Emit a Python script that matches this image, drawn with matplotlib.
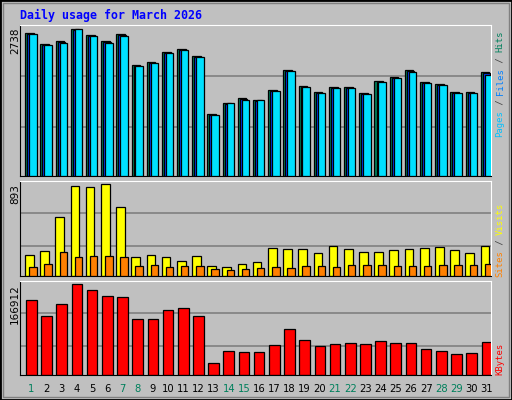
import matplotlib
matplotlib.use("Agg")
import matplotlib.pyplot as plt
from matplotlib.patches import Rectangle

days = list(range(1, 32))
weekend = [1, 7, 8, 14, 15, 21, 22, 28, 29]

hits = [2664, 2459, 2515, 2738, 2627, 2515, 2645, 2068, 2124, 2310, 2366, 2236, 1155, 1360,
        1453, 1416, 1602, 1975, 1677, 1565, 1658, 1658, 1546, 1770, 1844, 1975, 1751, 1714,
        1565, 1565, 1937]
files = [2650, 2445, 2500, 2730, 2612, 2500, 2630, 2055, 2110, 2295, 2352, 2222, 1145, 1352,
         1440, 1405, 1590, 1960, 1665, 1552, 1645, 1645, 1533, 1757, 1830, 1960, 1738, 1700,
         1552, 1552, 1922]
pages = [2645, 2440, 2480, 2735, 2605, 2480, 2620, 2050, 2105, 2290, 2345, 2215, 1140, 1358,
         1418, 1416, 1580, 1960, 1665, 1550, 1640, 1640, 1530, 1750, 1822, 1940, 1735, 1700,
         1550, 1550, 1895]
visits = [204, 243, 573, 874, 864, 893, 670, 184, 204, 184, 146, 194, 97, 87, 116, 136, 272,
          262, 262, 223, 291, 262, 233, 233, 252, 262, 272, 282, 252, 223, 291]
sites = [87, 116, 233, 184, 194, 194, 184, 97, 107, 87, 97, 97, 68, 58, 68, 78, 87, 78, 97, 97,
         87, 107, 107, 107, 97, 97, 97, 107, 107, 107, 116]
kbytes = [137565, 108218, 130228, 166912, 155907, 144902, 143068, 102715, 102715, 119223,
          122891, 108218, 22010, 44021, 42187, 42187, 55026, 84373, 64197, 53192, 56860,
          58694, 56860, 62363, 58694, 58694, 47689, 44021, 38518, 40352, 60529]

BG = "#c0c0c0"
W, H = 512, 400
fig = plt.figure(figsize=(W / 100, H / 100), dpi=100, facecolor=BG)

# outer frame
fig.patches.append(Rectangle((0, 0), 1, 1, transform=fig.transFigure, fill=False,
                             edgecolor="black", linewidth=2))
fig.patches.append(Rectangle((3 / W, 3 / H), 1 - 6 / W, 1 - 6 / H, transform=fig.transFigure,
                             fill=False, edgecolor="#808080", linewidth=1))

fig.text(20 / W, 1 - 15 / H, "Daily usage for March 2026", color="#0000ff",
         family="DejaVu Sans Mono", fontweight="bold", fontsize=8.4, va="center")

X0, X1 = 20, 490.7


def panel(y_top, y_bot, ymax, grids):
    ax = fig.add_axes([X0 / W, 1 - y_bot / H, (X1 - X0) / W, (y_bot - y_top) / H])
    ax.set_facecolor(BG)
    ax.set_xlim(0.25, 31.25)
    ax.set_ylim(0, ymax)
    for g in grids:
        ax.axhline(g * ymax, color="#808080", linewidth=1.2, zorder=0)
    ax.set_xticks([])
    ax.set_yticks([])
    ax.spines["left"].set_color("black")
    ax.spines["bottom"].set_color("black")
    ax.spines["top"].set_color("white")
    ax.spines["right"].set_color("white")
    return ax


def left_label(text, y_top):
    fig.text(15 / W, 1 - y_top / H, text, rotation=90, ha="center", va="top",
             fontsize=7.5, color="black")


def right_label(parts, y_bottom):
    # parts: list of (text, color), stacked upward
    y = y_bottom
    for t, c in parts:
        fig.text(500 / W, 1 - y / H, t, rotation=90, ha="center", va="bottom",
                 family="DejaVu Sans Mono", fontsize=6.4, color=c)
        y -= len(t) * 5.3


ew = dict(edgecolor="black", linewidth=0.9)

ax1 = panel(25, 176.3, 2818, [0.325, 0.66])
ax1.bar([d - 0.12 for d in days], hits, width=0.57, color="#00805c", zorder=2, **ew)
ax1.bar([d - 0.02 for d in days], files, width=0.5, color="#0040ff", zorder=3, **ew)
ax1.bar([d + 0.1 for d in days], pages, width=0.49, color="#00e0ff", zorder=4, **ew)
left_label("2738", 27)
right_label([("Pages", "#00c0ff"), (" / ", "#404040"), ("Files", "#0080ff"),
             (" / ", "#404040"), ("Hits", "#00805c")], 137)

ax2 = panel(180.7, 276.3, 928, [0.314, 0.66])
ax2.bar([d - 0.13 for d in days], visits, width=0.57, color="#ffff00", zorder=2, **ew)
ax2.bar([d + 0.1 for d in days], sites, width=0.49, color="#ff8000", zorder=3, **ew)
left_label("893", 184)
right_label([("Sites", "#ff8000"), (" / ", "#404040"), ("Visits", "#ffff00")], 277)

ax3 = panel(280.7, 375.3, 173500, [0.31, 0.655])
ax3.bar(days, kbytes, width=0.7, color="#ff0000", zorder=2, **ew)
left_label("166912", 284)
right_label([("KBytes", "#ff0000")], 375)

for d in days:
    fig.text((X0 + (d - 0.25) * (X1 - X0) / 31) / W, 1 - 389 / H, str(d), ha="center",
             va="center", fontsize=7.2, color="#00805c" if d in weekend else "black")

fig.savefig("out.png", dpi=100, facecolor=BG)
